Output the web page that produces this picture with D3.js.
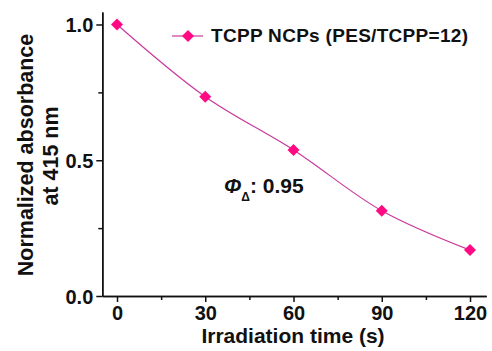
<!DOCTYPE html>
<html>
<head>
<meta charset="utf-8">
<script src="https://cdn.jsdelivr.net/npm/d3@7"></script>
<style>
    body { margin: 0; background: #fff; }
    svg { display: block; }
    text { font-family: "Liberation Sans", Arial, sans-serif; font-weight: bold; fill: #111; }
    .axis path, .axis line { stroke: #111; stroke-width: 1.5px; }
    .axis text { font-size: 20px; }
</style>
</head>
<body>
<svg width="492" height="351"></svg>
<script>
// data
var times = [0, 30, 60, 90, 120];
var absorbance = [1.0, 0.734, 0.538, 0.314, 0.169];
var xTicks = [0, 30, 60, 90, 120];
var xMinor = [15, 45, 75, 105];
var yTicks = [0.0, 0.5, 1.0];
var yMinor = [0.25, 0.75];
var seriesName = 'TCPP NCPs (PES/TCPP=12)';

var lineColor = '#c8399a';
var markColor = '#ff0a82';

d3.select(window).on('load', init);

function init() {
    var svg = d3.select('svg');

    var xScale = d3.scaleLinear()
        .domain([-5, 125.5])
        .range([102.3, 486.2]);

    var yScale = d3.scaleLinear()
        .domain([0, 1.046])
        .range([296, 12]);

    // minor ticks first, then the main axes on top
    svg.append('g')
        .attr('class', 'axis')
        .attr('transform', 'translate(0,296)')
        .call(d3.axisBottom(xScale).tickValues(xMinor).tickSize(4).tickSizeOuter(0).tickFormat(''));

    svg.append('g')
        .attr('class', 'axis')
        .attr('transform', 'translate(102.3,0)')
        .call(d3.axisLeft(yScale).tickValues(yMinor).tickSize(4).tickSizeOuter(0).tickFormat(''));

    var xAxis = svg.append('g')
        .attr('class', 'axis x')
        .attr('transform', 'translate(0,296)')
        .call(d3.axisBottom(xScale).tickValues(xTicks).tickSize(6).tickSizeOuter(0).tickPadding(4));

    var yAxis = svg.append('g')
        .attr('class', 'axis y')
        .attr('transform', 'translate(102.3,0)')
        .call(d3.axisLeft(yScale).tickValues(yTicks).tickSize(6).tickSizeOuter(0).tickPadding(3)
            .tickFormat(d3.format('.1f')));

    xAxis.selectAll('text').attr('fill', '#111');
    yAxis.selectAll('text').attr('fill', '#111').attr('dy', '0.36em');

    // axis titles
    svg.append('text')
        .attr('x', 293)
        .attr('y', 343)
        .attr('text-anchor', 'middle')
        .style('font-size', '21px')
        .text('Irradiation time (s)');

    svg.append('text')
        .attr('transform', 'translate(33,155) rotate(-90)')
        .attr('text-anchor', 'middle')
        .style('font-size', '21.5px')
        .text('Normalized absorbance');

    svg.append('text')
        .attr('transform', 'translate(58,156) rotate(-90)')
        .attr('text-anchor', 'middle')
        .style('font-size', '21.5px')
        .text('at 415 nm');

    // the series
    var pts = times.map(function(t, i) { return [t, absorbance[i]]; });

    var line = d3.line()
        .curve(d3.curveCatmullRom)
        .x(function(d) { return xScale(d[0]); })
        .y(function(d) { return yScale(d[1]); });

    svg.append('path')
        .datum(pts)
        .attr('d', line)
        .attr('fill', 'none')
        .attr('stroke', lineColor)
        .attr('stroke-width', 1.2);

    var diamond = d3.symbol().type(d3.symbolSquare).size(72);

    svg.selectAll('.mark')
        .data(pts)
        .enter()
        .append('path')
        .attr('class', 'mark')
        .attr('d', diamond)
        .attr('fill', markColor)
        .attr('transform', function(d) {
            return 'translate(' + xScale(d[0]) + ',' + yScale(d[1]) + ') rotate(45)';
        });

    // legend
    var legend = svg.append('g').attr('transform', 'translate(172,36)');
    legend.append('line')
        .attr('x1', 0).attr('x2', 31)
        .attr('y1', 0).attr('y2', 0)
        .attr('stroke', lineColor)
        .attr('stroke-width', 1.2);
    legend.append('path')
        .attr('d', diamond)
        .attr('fill', markColor)
        .attr('transform', 'translate(16,0) rotate(45)');
    legend.append('text')
        .attr('x', 39)
        .attr('y', 6)
        .style('font-size', '19px')
        .style('letter-spacing', '0.3px')
        .text(seriesName);

    // quantum yield note
    var note = svg.append('text')
        .attr('x', 224)
        .attr('y', 193)
        .style('font-size', '21px');
    note.append('tspan')
        .style('font-style', 'italic')
        .text('\u03A6');
    note.append('tspan')
        .attr('dy', 8)
        .style('font-size', '12px')
        .text('\u0394');
    note.append('tspan')
        .attr('dy', -8)
        .text(': 0.95');
}
</script>
</body>
</html>
